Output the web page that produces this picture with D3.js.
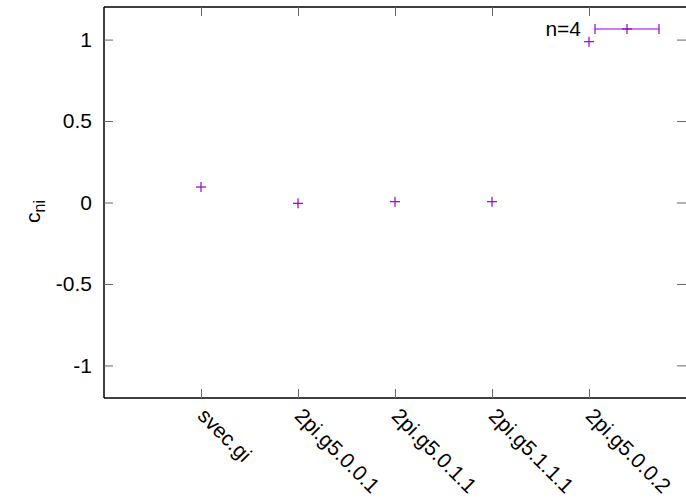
<!DOCTYPE html>
<html>
<head>
<meta charset="utf-8">
<script src="https://cdn.jsdelivr.net/npm/d3@7"></script>
<style>
  html, body { margin: 0; padding: 0; background: #fff; }
  svg { display: block; font-family: "Liberation Sans", Arial, sans-serif; }
</style>
</head>
<body>
<svg id="chart" width="686" height="502"></svg>
<script>
// Category labels along x (positions 1..5)
const categories = ["svec.gi", "2pi.g5.0.0.1", "2pi.g5.0.1.1", "2pi.g5.1.1.1", "2pi.g5.0.0.2"];
// c_ni value for each category
const values = [0.095, -0.005, 0.005, 0.005, 0.987];
// y tick values
const yTicks = [-1, -0.5, 0, 0.5, 1];
const legendLabel = "n=4";

const color = "#9400d3";
const fontSize = 21;
const W = 686, H = 502;
const margin = { left: 104, right: 0, top: 7, bottom: 104 };

const svg = d3.select("#chart");

const x = d3.scaleLinear().domain([0, 6]).range([margin.left, W - margin.right]);
const y = d3.scaleLinear().domain([-1.2, 1.2]).range([H - margin.bottom, margin.top]);

// Frame: left, top and bottom border lines
const frame = svg.append("g").attr("stroke", "#000").attr("stroke-width", 1.5).attr("fill", "none");
frame.append("line").attr("x1", x(0)).attr("x2", x(0)).attr("y1", y(1.2)).attr("y2", y(-1.2));
frame.append("line").attr("x1", x(0)).attr("x2", x(6)).attr("y1", y(1.2)).attr("y2", y(1.2));
frame.append("line").attr("x1", x(0)).attr("x2", x(6)).attr("y1", y(-1.2)).attr("y2", y(-1.2));

// Y axis (left) with inward ticks; plain hyphen for negatives
const yAxis = d3.axisLeft(y).tickValues(yTicks).tickSize(-9).tickPadding(12)
  .tickFormat(d => String(d));
const gy = svg.append("g").attr("transform", `translate(${x(0)},0)`).call(yAxis);
gy.select(".domain").remove();
gy.selectAll(".tick line").attr("stroke", "#666").attr("stroke-width", 1);
gy.selectAll(".tick text").attr("font-size", fontSize).attr("fill", "#000");

// Mirrored y ticks on the right edge
const yAxisR = d3.axisRight(y).tickValues(yTicks).tickSize(-9).tickFormat("");
const gyr = svg.append("g").attr("transform", `translate(${x(6)},0)`).call(yAxisR);
gyr.select(".domain").remove();
gyr.selectAll(".tick line").attr("stroke", "#666").attr("stroke-width", 1);

// X axis (bottom) with inward ticks and rotated labels
const xAxis = d3.axisBottom(x).tickValues(d3.range(1, categories.length + 1))
  .tickSize(-9).tickFormat(d => categories[d - 1]);
const gx = svg.append("g").attr("transform", `translate(0,${y(-1.2)})`).call(xAxis);
gx.select(".domain").remove();
gx.selectAll(".tick line").attr("stroke", "#666").attr("stroke-width", 1);
gx.selectAll(".tick text")
  .attr("font-size", fontSize).attr("fill", "#000")
  .attr("text-anchor", "start")
  .attr("y", 0).attr("dy", 0)
  .attr("transform", "translate(-5,19) rotate(45)");

// Mirrored x ticks along the top
const xAxisT = d3.axisTop(x).tickValues(d3.range(1, categories.length + 1)).tickSize(-9).tickFormat("");
const gxt = svg.append("g").attr("transform", `translate(0,${y(1.2)})`).call(xAxisT);
gxt.select(".domain").remove();
gxt.selectAll(".tick line").attr("stroke", "#666").attr("stroke-width", 1);

// Y axis title c_ni
const yl = svg.append("text")
  .attr("transform", `translate(${40},${y(0) + 9}) rotate(-90)`)
  .attr("text-anchor", "middle").attr("font-size", fontSize).attr("fill", "#000");
yl.append("tspan").text("c");
yl.append("tspan").attr("font-size", 16).attr("dy", 5).text("ni");

// Data points as plus markers
const plus = (g, cx, cy, r) => {
  g.append("line").attr("x1", cx - r).attr("x2", cx + r).attr("y1", cy).attr("y2", cy);
  g.append("line").attr("x1", cx).attr("x2", cx).attr("y1", cy - r).attr("y2", cy + r);
};
const pts = svg.append("g").attr("stroke", color).attr("stroke-width", 1.2);
values.forEach((v, i) => plus(pts, x(i + 1), y(v), 5));

// Key: label plus an x-error-bar sample
const keyY = 29;
const keyX0 = 595, keyX1 = 659;
svg.append("text").attr("x", 581).attr("y", keyY + 7).attr("text-anchor", "end")
  .attr("font-size", fontSize).attr("fill", "#000").text(legendLabel);
const key = svg.append("g").attr("stroke", color).attr("stroke-width", 1.2);
key.append("line").attr("x1", keyX0).attr("x2", keyX1).attr("y1", keyY).attr("y2", keyY);
key.append("line").attr("x1", keyX0).attr("x2", keyX0).attr("y1", keyY - 5).attr("y2", keyY + 5);
key.append("line").attr("x1", keyX1).attr("x2", keyX1).attr("y1", keyY - 5).attr("y2", keyY + 5);
plus(key, (keyX0 + keyX1) / 2, keyY, 5);
</script>
</body>
</html>
